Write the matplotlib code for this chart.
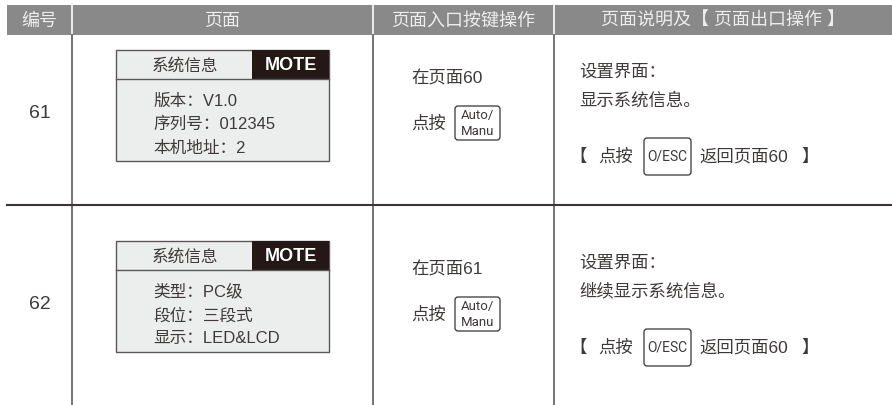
import matplotlib
matplotlib.use("Agg")
from matplotlib import pyplot as plt
from matplotlib.patches import Rectangle, FancyBboxPatch

plt.rcParams['font.family'] = ['Liberation Sans', 'Noto Sans CJK SC', 'DejaVu Sans']

# table content
headers = ["编号", "页面", "页面入口按键操作", "页面说明及【 页面出口操作 】"]
row_ids = ["61", "62"]
screen_title = "系统信息"
screen_tag = "MOTE"
screen_lines = [
    ["版本：V1.0", "序列号：012345", "本机地址：2"],
    ["类型：PC级", "段位：三段式", "显示：LED&LCD"],
]
entry_pages = ["在页面60", "在页面61"]
entry_key = ["Auto/", "Manu"]
desc_lines = [
    ["设置界面：", "显示系统信息。"],
    ["设置界面：", "继续显示系统信息。"],
]
exit_key = "O/ESC"
exit_page = ["返回页面60", "返回页面60"]

# layout (pixels)
W, H = 892, 406
col_edges = [7, 72, 373, 554, 892]
header_top, header_bot = 6, 36
row_sep = 206
row_shift = [0, 191]

text_col = "#3e3a39"
line_col = "#767272"
key_font = ["Roboto", "DejaVu Sans"]

fig = plt.figure(figsize=(W / 100, H / 100), dpi=100)
ax = fig.add_axes([0, 0, 1, 1])
ax.set_xlim(0, W)
ax.set_ylim(H, 0)
ax.axis("off")

# header
ax.add_patch(Rectangle((col_edges[0], header_top), col_edges[-1] - col_edges[0],
                       header_bot - header_top, facecolor="#898989", edgecolor="none"))
for i, h in enumerate(headers):
    cx = (col_edges[i] + col_edges[i + 1]) / 2
    ax.text(cx, 21, h, color="#ededed", fontsize=13, ha="center", va="center")
for x in col_edges[1:-1]:
    ax.plot([x, x], [header_top, header_bot], color="white", lw=1.2)
    ax.plot([x, x], [header_bot, H], color=line_col, lw=1.4)

ax.plot([col_edges[0], col_edges[-1]], [row_sep, row_sep], color="#3a3434", lw=1.5)

for r in range(len(row_ids)):
    dy = row_shift[r]

    ax.text(40, 114 + dy, row_ids[r], color=text_col, fontsize=14, ha="center", va="center")

    # screen box
    bx0, bx1, by0, by1 = 116, 329, 51 + dy, 162 + dy
    ax.add_patch(Rectangle((bx0, by0), bx1 - bx0, by1 - by0, facecolor="#eceeed",
                           edgecolor="#595757", lw=1.0))
    ax.add_patch(Rectangle((252, by0), bx1 - 252, 29, facecolor="#231815", edgecolor="none"))
    ax.plot([bx0, bx1], [by0 + 29, by0 + 29], color="#595757", lw=1.0)
    ax.text(185, by0 + 15, screen_title, color=text_col, fontsize=12, ha="center", va="center")
    ax.text(290.5, by0 + 15, screen_tag, color="white", fontsize=13, fontweight="bold",
            ha="center", va="center")
    for k, s in enumerate(screen_lines[r]):
        ax.text(153, by0 + 50 + 23.5 * k, s, color=text_col, fontsize=12, ha="left", va="center")

    # entry key
    ax.text(411, 78 + dy, entry_pages[r], color=text_col, fontsize=12.5, ha="left", va="center")
    ax.text(411, 124 + dy, "点按", color=text_col, fontsize=12.5, ha="left", va="center")
    ax.add_patch(FancyBboxPatch((455, 107 + dy), 45, 34, boxstyle="round,pad=0,rounding_size=3",
                                facecolor="white", edgecolor="#333333", lw=0.9))
    ax.text(477.5, 116 + dy, entry_key[0], color=text_col, fontsize=9.5, ha="center",
            va="center", family=key_font)
    ax.text(477.5, 132 + dy, entry_key[1], color=text_col, fontsize=9.5, ha="center",
            va="center", family=key_font)

    # description and exit key
    ax.text(579, 72 + dy, desc_lines[r][0], color=text_col, fontsize=12.5, ha="left", va="center")
    ax.text(579, 100 + dy, desc_lines[r][1], color=text_col, fontsize=12.5, ha="left", va="center")
    ey = 157 + dy
    ax.text(569, ey, "【", color=text_col, fontsize=12.5, ha="left", va="center")
    ax.text(598, ey, "点按", color=text_col, fontsize=12.5, ha="left", va="center")
    ax.add_patch(FancyBboxPatch((644, 139 + dy), 47, 37, boxstyle="round,pad=0,rounding_size=3",
                                facecolor="white", edgecolor="#333333", lw=0.9))
    ax.text(667.5, ey, exit_key, color=text_col, fontsize=10, ha="center", va="center",
            family=key_font)
    ax.text(699, ey, exit_page[r], color=text_col, fontsize=12.5, ha="left", va="center")
    ax.text(801, ey, "】", color=text_col, fontsize=12.5, ha="left", va="center")

fig.savefig("out.png", dpi=100)
